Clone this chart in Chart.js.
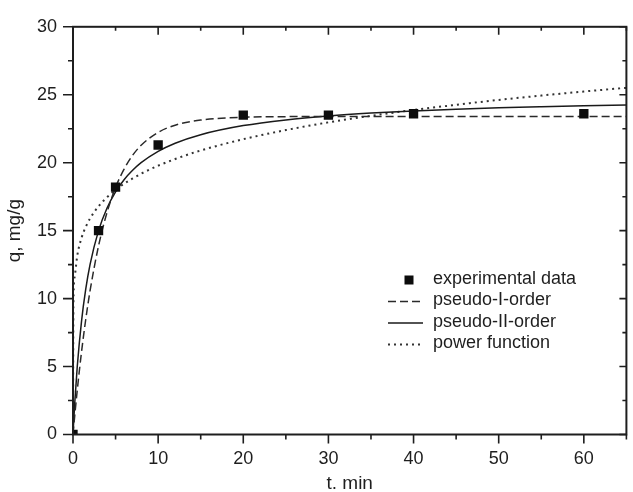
<!DOCTYPE html>
<html><head><meta charset="utf-8">
<style>html,body{margin:0;padding:0;background:#fff}#wrap{width:633px;height:492px}</style>
<script src="https://cdn.jsdelivr.net/npm/chart.js@4.4.1/dist/chart.umd.min.js"></script>
</head><body><div id="wrap"><canvas id="c" width="633" height="492"></canvas></div>
<script>
// ---- data ----
const expT = [0, 3, 5, 10, 20, 30, 40, 60];
const expQ = [0, 15.0, 18.2, 21.3, 23.5, 23.5, 23.6, 23.6];
const fitT = [0, 0.05, 0.2, 0.5, 1, 1.5, 2, 3, 4, 5, 6, 7, 8, 10, 12, 15, 20, 25, 30, 35, 40, 45, 50, 55, 60, 65];
const pfoQ = [0, 0.35, 1.36, 3.26, 6.07, 8.48, 10.56, 13.88, 16.35, 18.18, 19.53, 20.54, 21.28, 22.23, 22.76, 23.14, 23.34, 23.39, 23.4, 23.4, 23.4, 23.4, 23.4, 23.4, 23.4, 23.4];
const psoQ = [0, 0.61, 2.27, 5.0, 8.33, 10.71, 12.5, 15.0, 16.67, 17.86, 18.75, 19.44, 20.0, 20.83, 21.43, 22.06, 22.73, 23.15, 23.44, 23.65, 23.81, 23.94, 24.04, 24.12, 24.19, 24.25];
const powQ = [0, 9.6, 11.62, 13.16, 14.46, 15.28, 15.89, 16.79, 17.46, 18.0, 18.45, 18.84, 19.19, 19.78, 20.27, 20.9, 21.73, 22.4, 22.97, 23.45, 23.88, 24.26, 24.62, 24.94, 25.24, 25.51];
const seriesNames = ['experimental data', 'pseudo-I-order', 'pseudo-II-order', 'power function'];
const xTitle = 't. min';
const yTitle = 'q, mg/g';
const xRange = [0, 65];
const yRange = [0, 30];

const FONT = "'Liberation Sans', Arial, Helvetica, sans-serif";
const INK = '#1e1e1e';

function pts(xs, ys) { return xs.map((x, i) => ({x: x, y: ys[i]})); }

const framePlugin = {
  id: 'frame',
  afterDatasetsDraw(chart) {
    const {ctx, chartArea: a, scales: {x, y}} = chart;
    ctx.save();
    ctx.strokeStyle = INK;
    ctx.lineWidth = 2;
    ctx.strokeRect(a.left, a.top, a.right - a.left, a.bottom - a.top);
    ctx.lineWidth = 1.6;
    ctx.beginPath();
    for (let v = xRange[0]; v <= xRange[1] + 1e-9; v += 5) {
      const px = x.getPixelForValue(v);
      const major = v % 10 === 0;
      ctx.moveTo(px, a.bottom); ctx.lineTo(px, a.bottom + (major ? 9 : 5));
      ctx.moveTo(px, a.top); ctx.lineTo(px, a.top + (major ? 8 : 4));
    }
    for (let v = yRange[0]; v <= yRange[1] + 1e-9; v += 2.5) {
      const py = y.getPixelForValue(v);
      const major = v % 5 === 0;
      ctx.moveTo(a.left - (major ? 10 : 5), py); ctx.lineTo(a.left, py);
      ctx.moveTo(a.right, py); ctx.lineTo(a.right - (major ? 7 : 4), py);
    }
    ctx.stroke();
    ctx.restore();
  },
  afterDraw(chart) {
    const {ctx} = chart;
    const ds = chart.data.datasets;
    const x0 = 388, x1 = 423, tx = 433, y0 = 279, dy = 21.5;
    ctx.save();
    ctx.font = '18px ' + FONT;
    ctx.textBaseline = 'middle';
    ctx.textAlign = 'left';
    ds.forEach((d, i) => {
      const yy = y0 + i * dy;
      ctx.fillStyle = INK;
      ctx.fillText(d.label, tx, yy);
      const my = yy + 1;
      if (d.showLine === false) {
        ctx.fillStyle = d.backgroundColor;
        ctx.fillRect(404.5, my - 4.5, 9, 9);
      } else {
        ctx.strokeStyle = d.borderColor;
        ctx.lineWidth = d.borderWidth;
        ctx.setLineDash(d.borderDash || []);
        ctx.beginPath();
        ctx.moveTo(x0, my); ctx.lineTo(x1, my);
        ctx.stroke();
        ctx.setLineDash([]);
      }
    });
    ctx.restore();
  }
};

new Chart(document.getElementById('c'), {
  type: 'line',
  data: {
    datasets: [
      {label: seriesNames[0], data: pts(expT, expQ), showLine: false, pointStyle: 'rect',
       pointRadius: 6.6, pointBorderWidth: 0, backgroundColor: '#0c0c0c', borderColor: '#0c0c0c', order: 0},
      {label: seriesNames[1], data: pts(fitT, pfoQ), borderColor: '#2a2a2a', borderWidth: 1.5,
       borderDash: [8, 4], pointRadius: 0, cubicInterpolationMode: 'monotone', order: 1},
      {label: seriesNames[2], data: pts(fitT, psoQ), borderColor: '#1a1a1a', borderWidth: 1.5,
       pointRadius: 0, cubicInterpolationMode: 'monotone', order: 2},
      {label: seriesNames[3], data: pts(fitT, powQ), borderColor: '#333', borderWidth: 2,
       borderDash: [2, 4], pointRadius: 0, cubicInterpolationMode: 'monotone', order: 3}
    ]
  },
  options: {
    responsive: false,
    animation: false,
    events: [],
    layout: {padding: {top: 22.5, right: 1, left: 0, bottom: 0}},
    plugins: {legend: {display: false}, tooltip: {enabled: false}},
    scales: {
      x: {
        type: 'linear', min: xRange[0], max: xRange[1],
        grid: {display: false, drawTicks: false}, border: {display: false},
        ticks: {stepSize: 10, includeBounds: false, padding: 14, color: INK, font: {family: FONT, size: 18}, maxRotation: 0},
        title: {display: true, text: xTitle, color: INK, font: {family: FONT, size: 19, lineHeight: 1}, padding: {top: 0, bottom: -1.5}},
        afterFit(s) { s.height = 57.5; }
      },
      y: {
        type: 'linear', min: yRange[0], max: yRange[1],
        grid: {display: false, drawTicks: false}, border: {display: false},
        ticks: {stepSize: 5, padding: 16, color: INK, font: {family: FONT, size: 18}},
        title: {display: true, text: yTitle, color: INK, font: {family: FONT, size: 19, lineHeight: 1}, padding: {top: 5.5, bottom: 0}},
        afterFit(s) { s.width = 73; }
      }
    }
  },
  plugins: [framePlugin]
});
</script>
</body></html>
